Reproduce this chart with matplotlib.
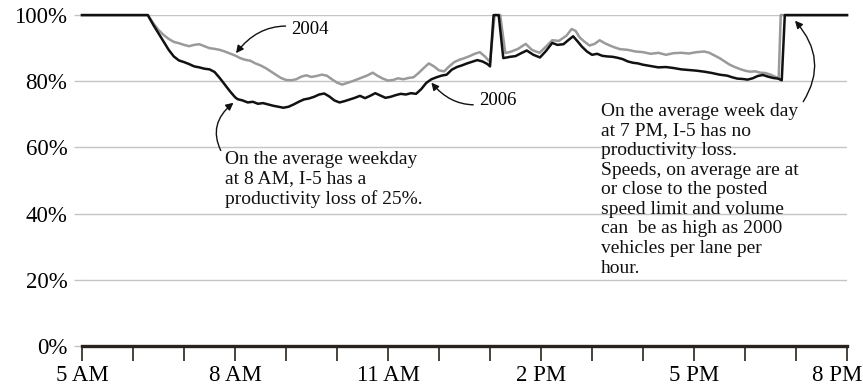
import matplotlib
matplotlib.use("Agg")
import matplotlib.pyplot as plt
from matplotlib.transforms import ScaledTranslation

plt.rcParams['font.family'] = ['Liberation Serif', 'DejaVu Serif']

# hours since midnight, productivity (% of max throughput)
hours_2006 = [5.0, 6.29, 6.4, 6.5, 6.6, 6.7, 6.8, 6.9, 7.0, 7.1, 7.2, 7.3, 7.4, 7.5, 7.6, 7.7,
              7.8, 7.9, 8.0, 8.05, 8.15, 8.25, 8.35, 8.45, 8.55, 8.65, 8.75, 8.85, 8.95, 9.05,
              9.15, 9.25, 9.35, 9.45, 9.55, 9.65, 9.75, 9.85, 9.95, 10.05, 10.15, 10.25, 10.35,
              10.45, 10.55, 10.65, 10.75, 10.85, 10.95, 11.05, 11.15, 11.25, 11.35, 11.45, 11.55,
              11.65, 11.75, 11.85, 11.95, 12.05, 12.15, 12.25, 12.35, 12.45, 12.55, 12.65, 12.75,
              12.85, 12.95, 13.0, 13.07, 13.17, 13.26, 13.4, 13.5, 13.6, 13.72, 13.85, 13.98,
              14.1, 14.22, 14.32, 14.44, 14.54, 14.63, 14.72, 14.8, 14.9, 15.0, 15.1, 15.2, 15.3,
              15.4, 15.5, 15.6, 15.7, 15.8, 15.9, 16.0, 16.15, 16.3, 16.45, 16.6, 16.75, 16.9,
              17.05, 17.2, 17.35, 17.5, 17.65, 17.75, 17.85, 17.95, 18.05, 18.15, 18.25, 18.35,
              18.45, 18.55, 18.65, 18.72, 18.78, 20.0]
prod_2006 = [100, 100, 97, 94.5, 92, 89.5, 87.5, 86.3, 85.8, 85.2, 84.5, 84.2, 83.8, 83.6, 82.8, 81,
             79, 77, 75.2, 74.6, 74.2, 73.6, 73.8, 73.2, 73.4, 73.0, 72.6, 72.3, 72.0, 72.3,
             73.0, 73.8, 74.5, 74.8, 75.3, 76.0, 76.3, 75.4, 74.2, 73.6, 74.0, 74.5, 75.0,
             75.6, 74.9, 75.6, 76.4, 75.7, 75.0, 75.3, 75.8, 76.2, 76.0, 76.4, 76.2,
             77.6, 79.5, 80.6, 81.2, 81.7, 82.0, 83.5, 84.3, 84.8, 85.4, 85.9, 86.4,
             86.0, 85.2, 84.5, 100, 100, 87.0, 87.4, 87.6, 88.4, 89.3, 88.0, 87.2,
             89.2, 91.6, 91.0, 91.2, 92.5, 93.6, 92.0, 90.5, 89.0, 88.0, 88.3, 87.7, 87.5,
             87.4, 87.1, 86.7, 86.0, 85.6, 85.4, 85.0, 84.6, 84.2, 84.3, 84.0, 83.6, 83.4,
             83.2, 82.9, 82.5, 82.0, 81.7, 81.2, 80.8, 80.7, 80.5, 80.9, 81.6, 81.9,
             81.4, 81.0, 80.8, 80.3, 100, 100]

hours_2004 = [5.0, 6.29, 6.4, 6.5, 6.6, 6.7, 6.8, 6.9, 7.0, 7.1, 7.2, 7.3, 7.4, 7.5, 7.6, 7.7,
              7.8, 7.9, 8.0, 8.1, 8.2, 8.3, 8.4, 8.5, 8.6, 8.7, 8.8, 8.9, 9.0, 9.1, 9.2, 9.3,
              9.4, 9.5, 9.6, 9.7, 9.8, 9.9, 10.0, 10.1, 10.2, 10.3, 10.4, 10.5, 10.6, 10.7,
              10.8, 10.9, 11.0, 11.1, 11.2, 11.3, 11.4, 11.5, 11.6, 11.7, 11.8, 11.9, 12.0,
              12.1, 12.2, 12.3, 12.4, 12.5, 12.6, 12.7, 12.8, 12.9, 13.0, 13.09, 13.2, 13.3,
              13.42, 13.55, 13.7, 13.82, 13.97, 14.1, 14.22, 14.35, 14.5, 14.6, 14.68, 14.76,
              14.85, 14.95, 15.05, 15.15, 15.25, 15.35, 15.45, 15.55, 15.7, 15.85, 16.0, 16.15,
              16.3, 16.45, 16.6, 16.75, 16.9, 17.05, 17.2, 17.3, 17.4, 17.5, 17.6, 17.7, 17.8,
              17.9, 18.0, 18.1, 18.2, 18.3, 18.4, 18.5, 18.6, 18.66, 18.7, 20.0]
prod_2004 = [100, 100, 97.5, 95.5, 94, 92.8, 91.9, 91.5, 91.0, 90.6, 91.0, 91.2, 90.6, 90.0, 89.8, 89.5,
             89.0, 88.4, 87.8, 87.0, 86.5, 86.2, 85.4, 84.8, 84.0, 83.0, 82.0, 81.0, 80.4, 80.3, 80.6, 81.4,
             81.8, 81.3, 81.6, 82.0, 81.7, 80.6, 79.6, 79.0, 79.5, 80.0, 80.6, 81.2, 81.8, 82.6,
             81.6, 80.8, 80.2, 80.4, 80.9, 80.6, 81.0, 81.2, 82.5, 84.0, 85.4, 84.5, 83.3,
             83.0, 84.5, 85.8, 86.5, 87.0, 87.6, 88.3, 88.8, 87.5, 85.8, 100, 100, 88.5,
             89.0, 89.8, 91.3, 89.5, 88.6, 90.5, 92.4, 92.2, 93.8, 95.8, 95.2, 93.2,
             92.0, 90.8, 91.3, 92.4, 91.5, 90.8, 90.2, 89.7, 89.5, 89.0, 88.8, 88.3,
             88.6, 88.0, 88.5, 88.6, 88.4, 88.8, 89.0, 88.6, 87.8, 87.0, 86.0, 85.0, 84.3,
             83.7, 83.2, 82.9, 83.0, 82.6, 82.5, 82.0, 81.3, 81.0, 100, 100]

hour_ticks = list(range(5, 21))
hour_labels = {5: "5 AM", 8: "8 AM", 11: "11 AM", 14: "2 PM", 17: "5 PM", 20: "8 PM"}
pct_ticks = [0, 20, 40, 60, 80, 100]

fig = plt.figure(figsize=(8.63, 3.87), dpi=100)
ax = fig.add_axes([0.095, 0.106, 0.8865, 0.855])

ax.plot(hours_2004, prod_2004, color="#9a9a9a", lw=1.8, clip_on=False, zorder=3)
ax.plot(hours_2006, prod_2006, color="#111111", lw=1.8, clip_on=False, zorder=4)

ax.set_xlim(5, 20)
ax.set_ylim(0, 100)
ax.set_yticks(pct_ticks)
ax.set_yticklabels([f"{p}%" for p in pct_ticks])
ax.set_xticks(hour_ticks)
ax.set_xticklabels([hour_labels.get(h, "") for h in hour_ticks])

ax.grid(axis="y", color="#c4c4c4", lw=1)
ax.set_axisbelow(True)
for s in ["top", "right", "left"]:
    ax.spines[s].set_visible(False)
ax.spines["bottom"].set_color("#2a231d")
ax.spines["bottom"].set_linewidth(2.4)
ax.spines["bottom"].set_zorder(5)

ax.tick_params(axis="y", length=6, color="#c4c4c4", width=1, labelsize=16.5, pad=4.5)
ax.tick_params(axis="x", length=11, color="#2a231d", width=1.2, labelsize=16.5, pad=2.5)

# last hour label sits flush with the right edge
last = ax.get_xticklabels()[-1]
last.set_horizontalalignment("right")
last.set_transform(last.get_transform() + ScaledTranslation(0.15, 0, fig.dpi_scale_trans))

txt = dict(fontsize=14, color="#111111", linespacing=1.2)
arw = dict(arrowstyle="-|>", color="#111111", lw=1, mutation_scale=11, shrinkA=2, shrinkB=0)

ax.annotate("2004", xy=(8.02, 88.5), xytext=(9.1, 95.5), ha="left", va="center",
            arrowprops=dict(arw, connectionstyle="arc3,rad=0.35"), fontsize=13.5)
ax.annotate("2006", xy=(11.85, 79.6), xytext=(12.78, 74.2), ha="left", va="center",
            arrowprops=dict(arw, connectionstyle="arc3,rad=-0.35"), fontsize=13.5)
ax.annotate("On the average weekday\nat 8 AM, I-5 has a\nproductivity loss of 25%.",
            xy=(7.97, 73.5), xytext=(7.8, 59.0), ha="left", va="top",
            arrowprops=dict(arw, connectionstyle="arc3,rad=-0.45", relpos=(0, 0.88)), **txt)
ax.annotate("On the average week day\nat 7 PM, I-5 has no\nproductivity loss.\n"
            "Speeds, on average are at\nor close to the posted\nspeed limit and volume\n"
            "can  be as high as 2000\nvehicles per lane per\nhour.",
            xy=(18.98, 98.3), xytext=(15.18, 73.5), ha="left", va="top",
            arrowprops=dict(arw, connectionstyle="arc3,rad=0.4", relpos=(1, 0.97)), **txt)

fig.savefig("out.png", dpi=100)
